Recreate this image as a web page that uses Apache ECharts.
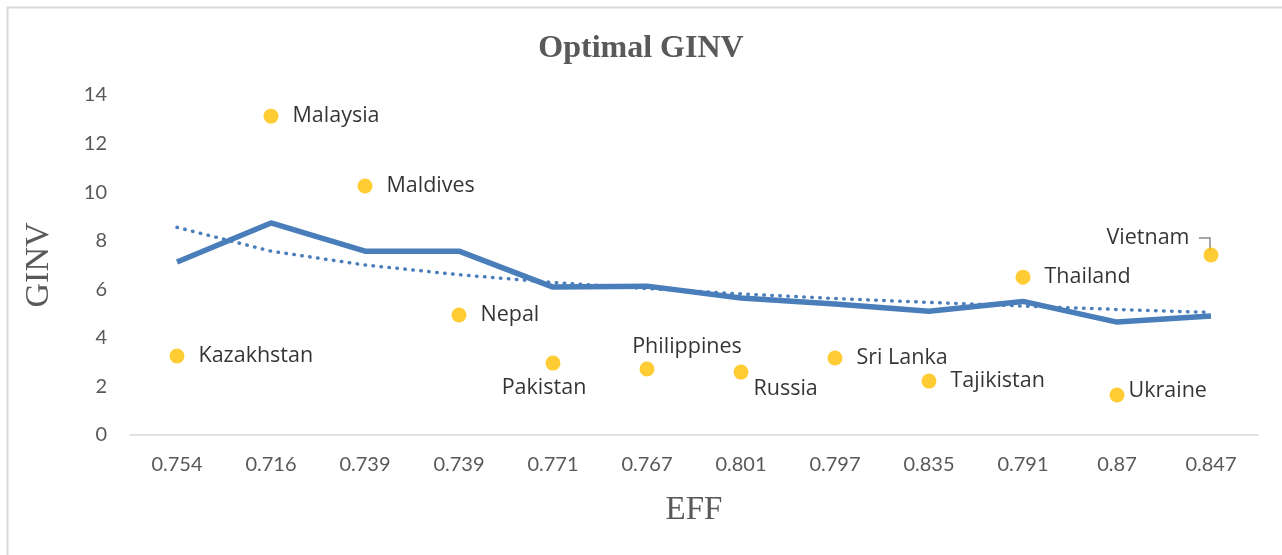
<!DOCTYPE html>
<html>
<head>
<meta charset="utf-8">
<script src="https://cdn.jsdelivr.net/npm/echarts@6/dist/echarts.min.js"></script>
<style>
  html, body { margin: 0; padding: 0; background: #fff; }
  #chart { width: 1282px; height: 555px; }
</style>
</head>
<body>
<div id="chart"></div>
<script>
const effLabels = ['0.754', '0.716', '0.739', '0.739', '0.771', '0.767', '0.801', '0.797', '0.835', '0.791', '0.87', '0.847']
const countries = ['Kazakhstan', 'Malaysia', 'Maldives', 'Nepal', 'Pakistan', 'Philippines', 'Russia', 'Sri Lanka', 'Tajikistan', 'Thailand', 'Ukraine', 'Vietnam']
const actualGinv = [3.25, 13.13, 10.25, 4.94, 2.96, 2.72, 2.59, 3.17, 2.22, 6.5, 1.65, 7.41]
const optimalGinv = [7.12, 8.73, 7.57, 7.57, 6.09, 6.13, 5.64, 5.39, 5.1, 5.5, 4.65, 4.9]
const trendGinv = [8.55, 7.57, 7.0, 6.6, 6.28, 6.03, 5.81, 5.62, 5.46, 5.31, 5.17, 5.05]

const LINE_COLOR = '#4a7ebb'
const DOT_COLOR = '#ffc000'
const TEXT_GREY = '#595959'

// per-country label placement, as in the original chart
const labelPlace = {
  Pakistan: { position: 'bottom', offset: [-9, 0], distance: 6 },
  Philippines: { position: 'top', offset: [40, 0], distance: 4 },
  Russia: { position: 'right', offset: [-3, 17], distance: 8 },
  Ukraine: { position: 'right', offset: [0, -4], distance: 4 },
  Vietnam: { position: 'left', offset: [-6, -17], distance: 8 },
}

const dots = countries.map((name, i) => ({
  value: actualGinv[i],
  name,
  label: labelPlace[name] || {},
}))

const frame = {
  type: 'rect',
  left: 5, top: 5,
  shape: { width: 1300, height: 580 },
  style: { fill: 'none', stroke: '#d9d9d9', lineWidth: 2 },
  silent: true,
}

const chart = echarts.init(document.getElementById('chart'))

chart.setOption({
  animation: false,
  title: {
    text: 'Optimal GINV',
    left: 'center',
    top: 28,
    textStyle: { fontFamily: 'Liberation Serif', fontWeight: 'bold', fontSize: 32, color: TEXT_GREY },
  },
  graphic: [frame],
  grid: { left: 130, right: 24, top: 95, bottom: 120 },
  xAxis: {
    type: 'category',
    data: effLabels,
    boundaryGap: true,
    axisLine: { lineStyle: { color: '#d9d9d9', width: 1.5 } },
    axisTick: { show: false },
    axisLabel: { color: TEXT_GREY, fontFamily: 'Lato', fontSize: 20, margin: 20 },
    name: 'EFF',
    nameLocation: 'middle',
    nameGap: 59,
    nameTextStyle: { fontFamily: 'Liberation Serif', fontSize: 33, color: TEXT_GREY },
  },
  yAxis: {
    type: 'value',
    min: 0,
    max: 14,
    interval: 2,
    splitLine: { show: false },
    axisLine: { show: false },
    axisTick: { show: false },
    axisLabel: { color: TEXT_GREY, fontFamily: 'Lato', fontSize: 20, margin: 23 },
    name: 'GINV',
    nameLocation: 'middle',
    nameGap: 74,
    nameTextStyle: { fontFamily: 'Liberation Serif', fontSize: 34, color: TEXT_GREY },
  },
  series: [
    {
      name: 'Optimal',
      type: 'line',
      data: optimalGinv,
      symbol: 'none',
      lineStyle: { color: LINE_COLOR, width: 5.5 },
      z: 3,
    },
    {
      name: 'Trend',
      type: 'line',
      data: trendGinv,
      symbol: 'none',
      lineStyle: { color: LINE_COLOR, width: 3.5, type: [0.5, 7.5], cap: 'round' },
      z: 2,
    },
    {
      name: 'Actual',
      type: 'scatter',
      data: dots,
      symbolSize: 15,
      itemStyle: { color: DOT_COLOR },
      label: {
        show: true,
        position: 'right',
        distance: 14,
        formatter: (p) => p.name,
        fontFamily: 'Open Sans',
        fontSize: 21.5,
        color: '#000',
      },
      z: 4,
    },
  ],
})

// elbow leader line for the Vietnam label, anchored on its point
const vi = countries.indexOf('Vietnam')
const vPt = chart.convertToPixel({ seriesIndex: 2 }, [vi, actualGinv[vi]])
chart.setOption({
  graphic: [
    frame,
    {
      type: 'polyline',
      shape: { points: [[vPt[0] - 12, vPt[1] - 17], [vPt[0] - 1, vPt[1] - 17], [vPt[0] - 1, vPt[1] - 4]] },
      style: { fill: 'none', stroke: '#a6a6a6', lineWidth: 2 },
      z: 3,
      silent: true,
    },
  ],
})
</script>
</body>
</html>
